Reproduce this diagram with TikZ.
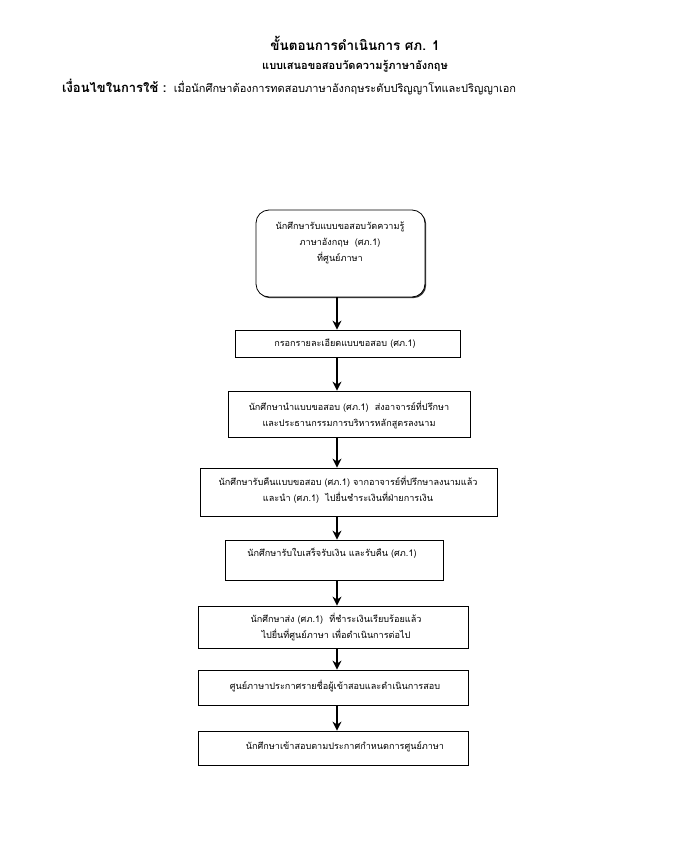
\documentclass[tikz,border=0pt]{standalone}
\usepackage{fontspec}
\newfontfamily\thaifont[Script=Thai]{Loma}
\usetikzlibrary{arrows.meta,shadows}
\tikzset{
  stepbox/.style={draw=black, line width=0.8pt, fill=white, inner sep=0pt,
    drop shadow={shadow xshift=1.2pt, shadow yshift=-1.2pt, fill=black, opacity=0.8}},
  roundbox/.style={stepbox, rounded corners=13pt},
  txt/.style={font=\thaifont\fontsize{9.1}{16}\selectfont, align=center, inner sep=0pt},
  arr/.style={line width=1.1pt, -{Stealth[length=9pt,width=9pt]}},
  ttl/.style={font=\thaifont\bfseries\fontsize{13.5}{15}\selectfont, inner sep=0pt},
  subttl/.style={font=\thaifont\bfseries\fontsize{11}{14}\selectfont, inner sep=0pt}
}
\begin{document}
\begin{tikzpicture}[x=1pt,y=-1pt]
\useasboundingbox (0,0) rectangle (698,861);
\fill[white] (0,0) rectangle (698,861);
\coordinate (ax) at (337,0);

\node[ttl] (title) at (355,43) {ขั้นตอนการดำเนินการ ศภ. 1};
\node[subttl] (sub) at (355,66) {แบบเสนอขอสอบวัดความรู้ภาษาอังกฤษ};
\node[txt, anchor=west, font=\thaifont\fontsize{11}{16}\selectfont] (cond) at (62,87) {{\bfseries\fontsize{13}{16}\selectfont เงื่อนไขในการใช้ :}\ \ เมื่อนักศึกษาต้องการทดสอบภาษาอังกฤษระดับปริญญาโทและปริญญาเอก};

\node[roundbox, minimum width=169pt, minimum height=87pt] (b1) at (340.5,253.5) {};
\node[stepbox, minimum width=225pt, minimum height=27pt] (b2) at (347.5,343.5) {};
\node[stepbox, minimum width=242pt, minimum height=46pt] (b3) at (349,414) {};
\node[stepbox, minimum width=297pt, minimum height=48pt] (b4) at (348.5,492) {};
\node[stepbox, minimum width=218pt, minimum height=40pt] (b5) at (334,560) {};
\node[stepbox, minimum width=270pt, minimum height=42pt] (b6) at (333,627) {};
\node[stepbox, minimum width=270pt, minimum height=35pt] (b7) at (333,687.5) {};
\node[stepbox, minimum width=270pt, minimum height=34pt] (b8) at (333,748) {};

\node[txt] (t1) at (340,243) {นักศึกษารับแบบขอสอบวัดความรู้\\ภาษาอังกฤษ\ \ (ศภ.1)\\ที่ศูนย์ภาษา};
\node[txt] (t2) at (345,344) {กรอกรายละเอียดแบบขอสอบ (ศภ.1)};
\node[txt] (t3) at (349,415) {นักศึกษานำแบบขอสอบ (ศภ.1)\ \ ส่งอาจารย์ที่ปรึกษา\\และประธานกรรมการบริหารหลักสูตรลงนาม};
\node[txt] (t4) at (348,490) {นักศึกษารับคืนแบบขอสอบ (ศภ.1) จากอาจารย์ที่ปรึกษาลงนามแล้ว\\และนำ (ศภ.1)\ \ ไปยื่นชำระเงินที่ฝ่ายการเงิน};
\node[txt] (t5) at (332,553) {นักศึกษารับใบเสร็จรับเงิน และรับคืน (ศภ.1)};
\node[txt] (t6) at (336,626.5) {นักศึกษาส่ง (ศภ.1)\ \ ที่ชำระเงินเรียบร้อยแล้ว\\ไปยื่นที่ศูนย์ภาษา เพื่อดำเนินการต่อไป};
\node[txt] (t7) at (335,686) {ศูนย์ภาษาประกาศรายชื่อผู้เข้าสอบและดำเนินการสอบ};
\node[txt] (t8) at (345,747) {นักศึกษาเข้าสอบตามประกาศกำหนดการศูนย์ภาษา};

\draw[arr] (b1.south -| ax) -- (b2.north -| ax);
\draw[arr] (b2.south -| ax) -- (b3.north -| ax);
\draw[arr] (b3.south -| ax) -- (b4.north -| ax);
\draw[arr] (b4.south -| ax) -- (b5.north -| ax);
\draw[arr] (b5.south -| ax) -- (b6.north -| ax);
\draw[arr] (b6.south -| ax) -- (b7.north -| ax);
\draw[arr] (b7.south -| ax) -- (b8.north -| ax);
\end{tikzpicture}
\end{document}
